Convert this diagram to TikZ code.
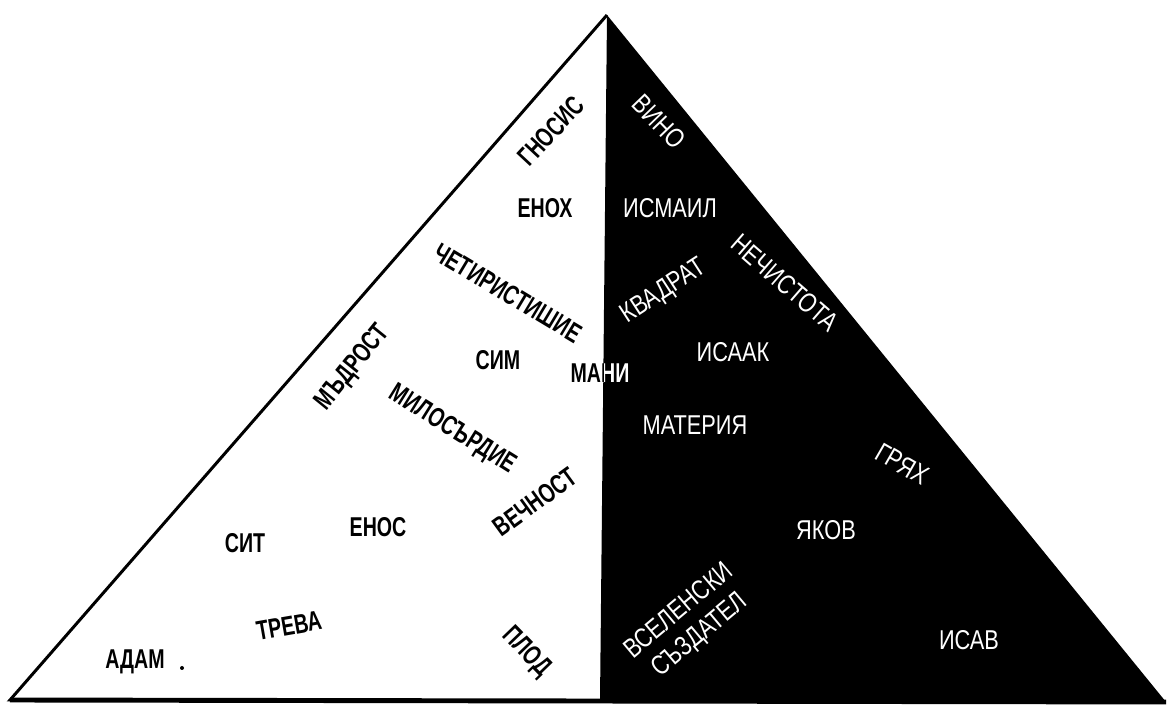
\documentclass[tikz,border=0pt]{standalone}
\usepackage{fontspec}
\setmainfont{Liberation Sans}
\newcommand{\condB}[1]{\scalebox{0.72}[1]{#1}}
\newcommand{\condW}[1]{\scalebox{0.8}[1]{#1}}
\begin{document}
\begin{tikzpicture}[x=0.02cm,y=-0.02cm,
  lbl/.style={font=\fontsize{15.5}{18}\selectfont\bfseries, text=black, inner sep=0pt},
  wlbl/.style={font=\fontsize{15.5}{18}\selectfont, text=white, inner sep=0pt},
  edge/.style={line width=1.7pt, line join=miter},
  baseln/.style={line width=2.8pt}]
\useasboundingbox[fill=white] (0,0) rectangle (1167,715);
% corners
\coordinate (apex) at (607,15);
\coordinate (bl) at (10,700);
\coordinate (bm) at (600,701);
\coordinate (br) at (1166,702);
% black half
\fill[black] (apex) -- (br) -- (bm) -- cycle;
% white half outline
\draw[edge] (bm) -- (bl) -- (apex);
\draw[baseln] (bl) -- (br);
% left labels
\node[lbl, rotate=47] (gnosis) at (551,131) {\condB{ГНОСИС}};
\node[lbl] (enoh) at (545,208) {\condB{ЕНОХ}};
\node[lbl, rotate=-31] (chet) at (508,293) {\condB{ЧЕТИРИСТИШИЕ}};
\node[lbl, rotate=51] (madrost) at (353,368) {\condB{МЪДРОСТ}};
\node[lbl] (sim) at (498,360) {\condB{СИМ}};
\node[lbl, rotate=-32] (milo) at (452,430) {\condB{МИЛОСЪРДИЕ}};
\node[lbl, rotate=36] (vechnost) at (535,502) {\condB{ВЕЧНОСТ}};
\node[lbl] (sit) at (245,543) {\condB{СИТ}};
\node[lbl] (enos) at (378,527) {\condB{ЕНОС}};
\node[lbl, rotate=10] (treva) at (289,626) {\condB{ТРЕВА}};
\node[lbl, rotate=-46] (plod) at (526,652) {\condB{ПЛОД}};
\node[lbl] (adam) at (135,662) {\condB{АДАМ}};
\fill (182,668) circle (2) coordinate (dot);
% MANI across the divider
\begin{scope}
  \clip (0,0) -- (607,0) -- (600,715) -- (0,715) -- cycle;
  \node[lbl] (mani) at (600,373) {\condB{МАНИ}};
\end{scope}
\begin{scope}
  \clip (607,0) -- (1167,0) -- (1167,715) -- (600,715) -- cycle;
  \node[lbl, text=white] (mani2) at (600,373) {\condB{МАНИ}};
\end{scope}
% right labels
\node[wlbl, rotate=-46] (vino) at (659,122) {\condW{ВИНО}};
\node[wlbl] (ismail) at (670,208) {\condW{ИСМАИЛ}};
\node[wlbl, rotate=33] (kvadrat) at (664,292) {\condW{КВАДРАТ}};
\node[wlbl, rotate=-41] (nechist) at (785,283) {\condW{НЕЧИСТОТА}};
\node[wlbl] (isaak) at (733,352) {\condW{ИСААК}};
\node[wlbl] (materia) at (695,425) {\condW{МАТЕРИЯ}};
\node[wlbl, rotate=-30] (gryah) at (902,464) {\condW{ГРЯХ}};
\node[wlbl] (yakov) at (826,530) {\condW{ЯКОВ}};
\node[wlbl, rotate=40] (vselenski) at (690,624) {\condW{\begin{tabular}{@{}c@{}}ВСЕЛЕНСКИ\\СЪЗДАТЕЛ\end{tabular}}};
\node[wlbl] (isav) at (969,640) {\condW{ИСАВ}};
\end{tikzpicture}
\end{document}
